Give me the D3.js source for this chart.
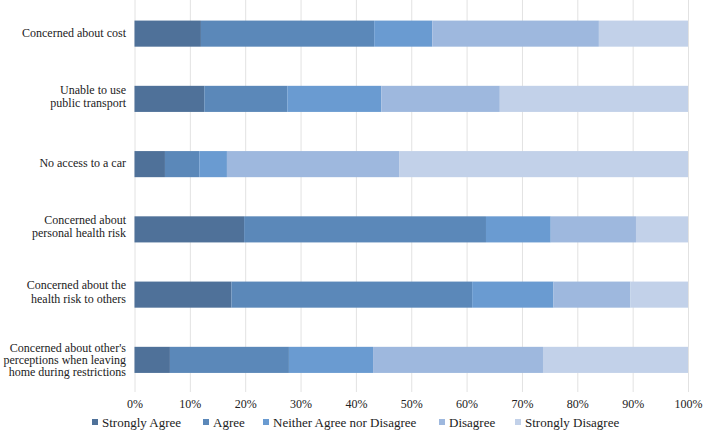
<!DOCTYPE html>
<html><head><meta charset="utf-8">
<script src="https://cdn.jsdelivr.net/npm/d3@7"></script>
<style>body{margin:0;background:#fff}svg{display:block}</style>
</head><body><svg id="c" width="708" height="441"></svg>
<script>
const categories = [
  ["Concerned about cost"],
  ["Unable to use","public transport"],
  ["No access to a car"],
  ["Concerned about","personal health risk"],
  ["Concerned about the","health risk to others"],
  ["Concerned about other's","perceptions when leaving","home during restrictions"]
];
const seriesNames = ["Strongly Agree","Agree","Neither Agree nor Disagree","Disagree","Strongly Disagree"];
const stronglyAgree = [12.0, 12.6, 5.5, 19.8, 17.5, 6.4];
const agree         = [31.3, 15.0, 6.2, 43.7, 43.5, 21.5];
const neither       = [10.5, 17.0, 5.0, 11.7, 14.7, 15.2];
const disagree      = [30.1, 21.4, 31.1, 15.4, 13.9, 30.7];
const stronglyDisagree = [16.1, 34.0, 52.2, 9.4, 10.4, 26.2];
const tickValues = [0,10,20,30,40,50,60,70,80,90,100];
const colors = ["#4f7199","#5b88b9","#6a9bd1","#9eb8de","#c2d1e9"];
const FONT = "'Liberation Serif'";

const series = [stronglyAgree, agree, neither, disagree, stronglyDisagree];
const rows = categories.map((c,i)=>{const o={key:i}; seriesNames.forEach((s,j)=>o[s]=series[j][i]); return o;});
const stack = d3.stack().keys(seriesNames)(rows);

const svg = d3.select("#c");
const x = d3.scaleLinear().domain([0,100]).range([134.5,688]);
const y = d3.scaleBand().domain(d3.range(categories.length)).range([1,392.5]).paddingInner(0.6).paddingOuter(0.3);

svg.append("g").selectAll("line").data(tickValues).join("line")
  .attr("x1",d=>x(d)+0.5).attr("x2",d=>x(d)+0.5)
  .attr("y1",0).attr("y2",392)
  .attr("stroke","#e2e2e2").attr("stroke-width",1);

svg.append("g").selectAll("g").data(stack).join("g")
  .attr("fill",(d,i)=>colors[i])
  .selectAll("rect").data(d=>d).join("rect")
  .attr("x",d=>x(d[0])).attr("width",d=>x(d[1])-x(d[0]))
  .attr("y",(d,i)=>y(i)).attr("height",y.bandwidth());

const ax = svg.append("g").attr("transform","translate(0,392)")
  .call(d3.axisBottom(x).tickValues(tickValues).tickFormat(d=>d+"%").tickSize(0).tickPadding(7));
ax.select(".domain").remove();
ax.attr("font-family",null).attr("font-size",null);
ax.selectAll("text").attr("fill","#222").style("font-family",FONT).style("font-size","12px");

const labelLayout = {1:{lh:0, off:3}, 2:{lh:13.3, off:1.3}, 3:{lh:12, off:4.3}};
categories.forEach((lines,i)=>{
  const cy = y(i)+y.bandwidth()/2;
  const L = labelLayout[lines.length];
  const t = svg.append("text").attr("text-anchor","end")
    .style("font-family",FONT).style("font-size","12px").attr("fill","#222");
  lines.forEach((l,k)=>{
    t.append("tspan").attr("x",126).attr("y",cy + (k-(lines.length-1)/2)*L.lh + L.off).text(l);
  });
});

const legX = [92,203,263,439,515];
const lg = svg.append("g");
seriesNames.forEach((s,i)=>{
  lg.append("rect").attr("x",legX[i]).attr("y",419).attr("width",6).attr("height",6).attr("fill",colors[i]);
  lg.append("text").attr("x",legX[i]+10).attr("y",426.5)
    .style("font-family",FONT).style("font-size","13px").attr("fill","#222").text(s);
});
</script></body></html>
